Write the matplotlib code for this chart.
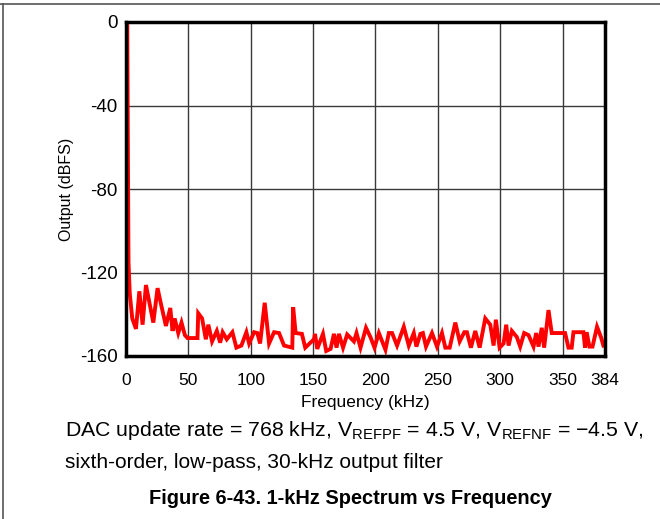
import matplotlib
matplotlib.use("Agg")
import matplotlib.pyplot as plt
from matplotlib.lines import Line2D

plt.rcParams["font.family"] = ["Liberation Sans", "DejaVu Sans"]
plt.rcParams["mathtext.fontset"] = "custom"
plt.rcParams["mathtext.rm"] = "Liberation Sans"

# spectrum (kHz, dBFS)
freq = [1, 1.5, 2, 3, 5, 8, 10.7, 13.3, 16, 21.9, 25.3, 28, 32, 35.5, 37.3, 39,
        41.9, 44.5, 47.2, 49.3, 57.3, 57.9, 61, 64, 66, 69, 72.8, 75.5, 77.5,
        80.8, 85.3, 88.5, 92.5, 96.5, 98.7, 102.7, 105.3, 107.5, 111.2, 114.7,
        118.7, 122.7, 126.7, 133.3, 134, 136, 141, 143.7, 150.7, 151.5, 153.3,
        157.9, 160.5, 164, 166.7, 168.8, 170.7, 174, 177.3, 182.7, 184.8, 188,
        192.4, 196, 199.2, 202.7, 208, 210.7, 213.3, 217.3, 222.7, 226.7, 230.7,
        232.8, 236, 238, 240.5, 245.3, 249.3, 253.3, 256, 259.5, 264, 267.5,
        271.2, 273.3, 276.5, 280, 283.5, 288, 292, 294.7, 296.5, 299.5, 302.7,
        304.8, 306.7, 309.3, 313.3, 316, 319.2, 322.7, 326.7, 328.8, 330.7,
        333.3, 335.2, 338.7, 341.3, 352, 354.7, 357.3, 358.7, 366.7, 368, 369.3,
        371.5, 374, 377.6, 380.8, 382.7]
level = [0, -60, -115, -130, -142, -147, -129, -145, -126, -144, -127.5, -135,
         -145.6, -137, -148, -142, -149, -144, -150, -151.4, -151.4, -139.5,
         -142, -152, -145, -153, -148, -153.6, -148.6, -152, -148.6, -156, -155,
         -148.6, -154, -148.6, -149, -154, -134.5, -154, -148.6, -149, -155,
         -156, -136.6, -149, -149.4, -156, -152, -149.4, -156.6, -149.4, -157.6,
         -156.6, -149.4, -156, -149.4, -156, -149.7, -153, -149, -156, -146.5,
         -151, -156, -149, -157, -149, -149, -155, -146, -155, -149, -155.5,
         -149.4, -149, -155.5, -149, -155.5, -149, -156, -156, -144, -153,
         -148.6, -148.6, -156, -148, -156, -142, -145, -155, -142.6, -156, -154,
         -145, -155, -148, -150.9, -155.5, -149, -150, -155.5, -149, -155.5,
         -146.5, -156, -138, -149, -149, -156, -156, -148.6, -148.6, -156,
         -148.6, -155.5, -155.5, -146, -151, -155]

xticks = [0, 50, 100, 150, 200, 250, 300, 350, 384]
yticks = [-160, -120, -80, -40, 0]

fig = plt.figure(figsize=(6.6, 5.19), dpi=100)
ax = fig.add_axes([126 / 660, 1 - 356 / 519, 479 / 660, 334 / 519])

ax.plot(freq, level, color="#ff0000", lw=2.8, solid_joinstyle="miter", zorder=3)

ax.set_xlim(0, 384)
ax.set_ylim(-160, 0)
ax.set_xticks(xticks)
ax.set_yticks(yticks)
ax.set_xticklabels([str(t) for t in xticks])
ax.set_yticklabels([str(t) for t in yticks])
ax.tick_params(length=0)
ax.tick_params(axis="x", pad=12, labelsize=12.5)
ax.tick_params(axis="y", pad=6, labelsize=13.5)
ax.grid(True, color="#3a3a3a", lw=1)
for s in ax.spines.values():
    s.set_linewidth(2.5)
    s.set_color("black")
    s.set_zorder(4)

ax.set_xlabel("Frequency (kHz)", fontsize=12.5, labelpad=5)
ax.set_ylabel("Output (dBFS)", fontsize=11.5, labelpad=4)

fig.text(65 / 660, 1 - 431 / 519,
         r"DAC update rate = 768 kHz, V$_\mathregular{REFPF}$ = 4.5 V, "
         r"V$_\mathregular{REFNF}$ = −4.5 V,",
         fontsize=15.3, va="center", ha="left")
fig.text(65 / 660, 1 - 462 / 519, "sixth-order, low-pass, 30-kHz output filter",
         fontsize=15, va="center", ha="left")
fig.text(350 / 660, 1 - 499 / 519, "Figure 6-43. 1-kHz Spectrum vs Frequency",
         fontsize=14.4, fontweight="bold", va="center", ha="center")

# page frame lines (top and left)
fig.add_artist(Line2D([0, 1], [1 - 4 / 519] * 2, color="#555555", lw=1.2,
                      transform=fig.transFigure))
fig.add_artist(Line2D([3 / 660] * 2, [0, 1 - 4 / 519], color="#555555", lw=1.2,
                      transform=fig.transFigure))

fig.savefig("out.png", dpi=100)
